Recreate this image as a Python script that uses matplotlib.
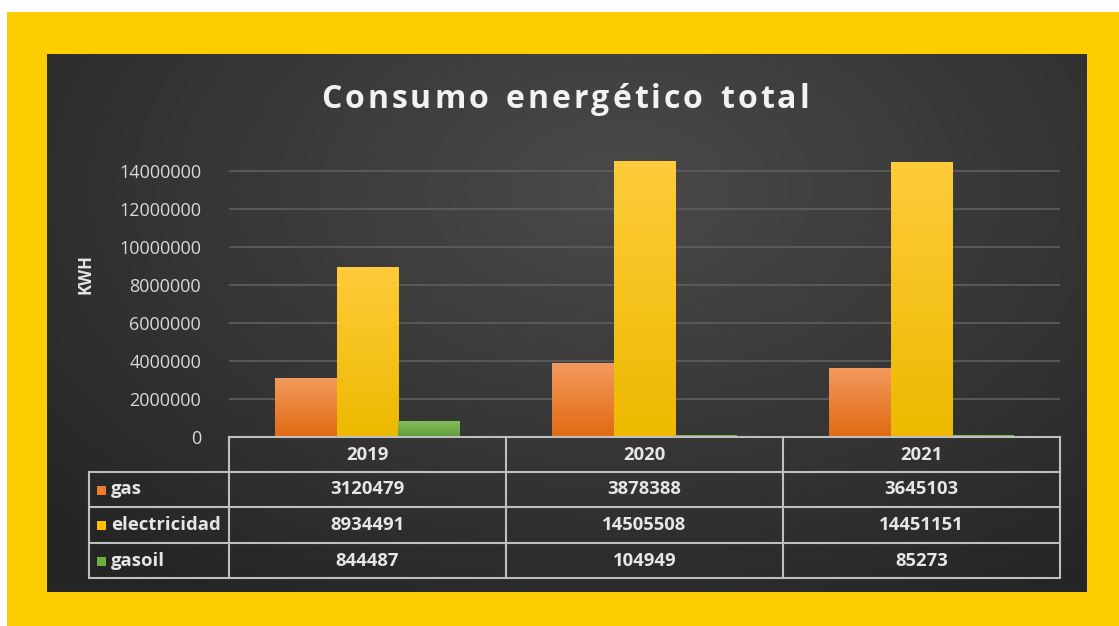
#!/usr/bin/env python3
import numpy as np
import matplotlib
matplotlib.use("Agg")
import matplotlib.pyplot as plt
from matplotlib.colors import LinearSegmentedColormap
from matplotlib.patches import Rectangle

# data
years = ["2019", "2020", "2021"]
series = ["gas", "electricidad", "gasoil"]
gas = [3120479, 3878388, 3645103]
electricidad = [8934491, 14505508, 14451151]
gasoil = [844487, 104949, 85273]
yticks = [0, 2000000, 4000000, 6000000, 8000000, 10000000, 12000000, 14000000]
title = "Consumo energético total"

colors = ["#ED7D31", "#FFC000", "#70AD47"]
tops = ["#F39A5E", "#FFCB3A", "#86BE5E"]
bottoms = ["#E06A12", "#EDB900", "#5E9E3A"]

plt.rcParams['font.family'] = ['Open Sans', 'DejaVu Sans']

W, H = 1119, 626
fig = plt.figure(figsize=(W / 100, H / 100), dpi=100)
fig.patch.set_facecolor("white")


def fx(px):
  return px / W


def fy(py):
  return 1 - py / H


# yellow frame
fig.patches.append(Rectangle((fx(7), 0), 1 - fx(7), fy(12), transform=fig.transFigure,
                             facecolor="#FDCD00", edgecolor="none", zorder=0))

# dark panel with soft radial gradient
bg = fig.add_axes([fx(47), fy(592), fx(1087 - 47), fy(54) - fy(592)], zorder=1)
yy, xx = np.mgrid[0:1:300j, 0:1:600j]
r = np.sqrt(((xx - 0.55) / 0.75) ** 2 + ((yy - 0.25) / 0.9) ** 2)
bg.imshow(np.clip(r, 0, 1), cmap=LinearSegmentedColormap.from_list("bg", ["#4a4a4a", "#252525"]),
          aspect="auto", extent=[0, 1, 1, 0], interpolation="bilinear")
bg.set_axis_off()

# plot area
ax = fig.add_axes([fx(229), fy(437), fx(1060 - 229), fy(152) - fy(437)], zorder=2)
ax.patch.set_alpha(0)
x = np.arange(len(years))
w = 0.222
vals = [gas, electricidad, gasoil]
for i, v in enumerate(vals):
  bars = ax.bar(x + (i - 1) * w, v, w, color=colors[i], zorder=3)
  cmap = LinearSegmentedColormap.from_list("g%d" % i, [bottoms[i], tops[i]])
  for b in bars:
    b.set_facecolor("none")
    h = b.get_height()
    im = ax.imshow(np.linspace(0, 1, 50).reshape(-1, 1), cmap=cmap, aspect="auto",
                   extent=[b.get_x(), b.get_x() + b.get_width(), 0, h], origin="lower",
                   zorder=2.5)
    im.set_clip_path(b)

ax.set_xlim(-0.5, 2.5)
ax.set_ylim(0, 15000000)
ax.set_yticks(yticks)
ax.set_yticklabels([str(t) for t in yticks], color="#d9d9d9", fontsize=13)
ax.set_xticks([])
ax.grid(axis="y", color="#5f5f5f", linewidth=1.2, zorder=1)
ax.tick_params(axis="y", length=0, pad=20)
for s in ax.spines.values():
  s.set_visible(False)
ax.set_ylabel("KWH", color="#e6e6e6", fontsize=12, fontweight="bold", labelpad=20)
ax.yaxis.set_label_coords(fx(95 - 229) / fx(1060 - 229), 0.57)

# title with extra letter spacing, drawn char by char
tab = fig.add_axes([0, 0, 1, 1], zorder=3)
tab.set_xlim(0, W)
tab.set_ylim(H, 0)
tab.set_axis_off()
tab.patch.set_alpha(0)
renderer = fig.canvas.get_renderer()
tstyle = dict(fontsize=23, fontweight="bold", color="#f2f2f2", va="center", ha="left")
spacing = 3.0
widths = []
for ch in title:
  t = tab.text(0, 0, ch if ch != " " else "n", **tstyle)
  widths.append(t.get_window_extent(renderer).width * (0.55 if ch == " " else 1))
  t.remove()
total = sum(widths) + spacing * (len(title) - 1)
xpos = (325 + 805) / 2 - total / 2
for ch, cw in zip(title, widths):
  if ch != " ":
    tab.text(xpos, 100, ch, **tstyle)
  xpos += cw + spacing

# data table drawn under the plot area
line = dict(color="#bfbfbf", linewidth=1.5)
col_x = [229, 506, 783, 1060]
row_y = [437, 472, 507, 543, 578]
tab.plot([229, 1060], [437, 437], **line)
for yv in row_y[1:]:
  tab.plot([89, 1060], [yv, yv], **line)
tab.plot([89, 89], [472, 578], **line)
for xv in col_x:
  tab.plot([xv, xv], [437, 578], **line)
cell = dict(fontsize=13.3, fontweight="bold", color="#e6e6e6", va="center")
for j, yr in enumerate(years):
  tab.text((col_x[j] + col_x[j + 1]) / 2, 455, yr, ha="center", **cell)
for i, name in enumerate(series):
  yc = (row_y[i + 1] + row_y[i + 2]) / 2
  tab.add_patch(Rectangle((97, yc - 4), 9, 9, facecolor=colors[i], edgecolor="none"))
  tab.text(111, yc, name, ha="left", **cell)
  for j in range(len(years)):
    tab.text((col_x[j] + col_x[j + 1]) / 2, yc, str(vals[i][j]), ha="center", **cell)

fig.savefig("out.png", dpi=100, facecolor=fig.get_facecolor())
